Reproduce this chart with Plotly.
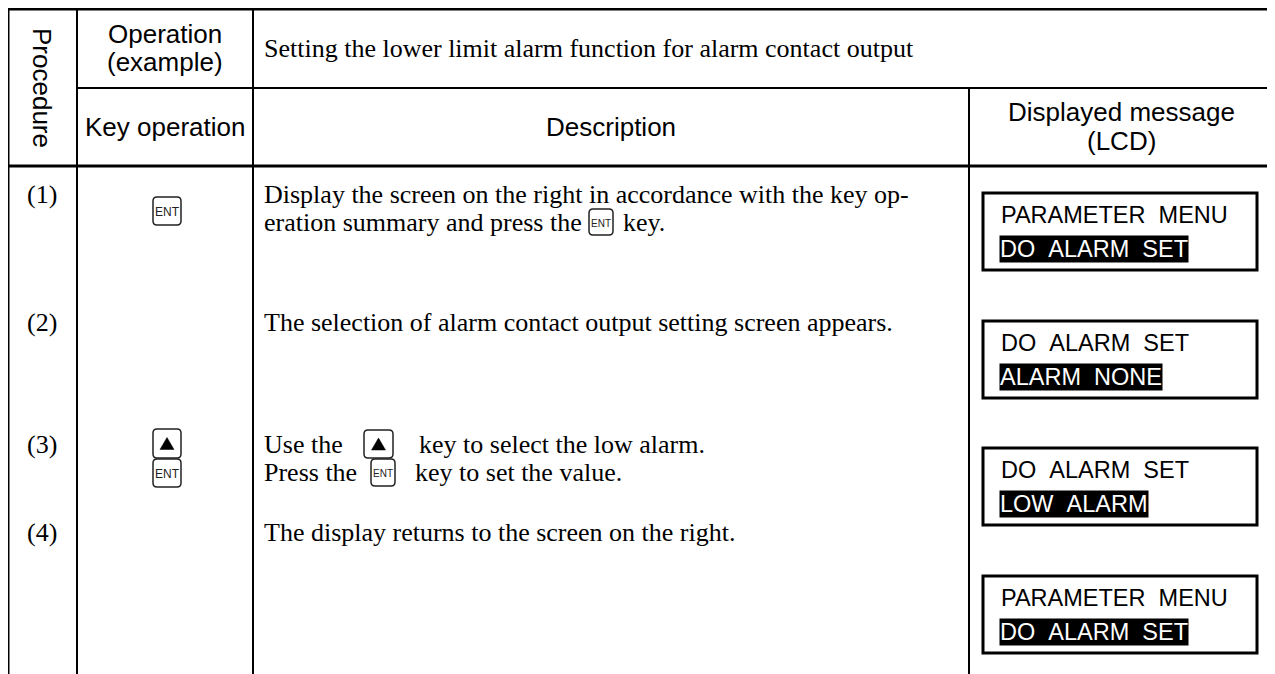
import plotly.graph_objects as go

SANS = "Liberation Sans, Arial, sans-serif"
SERIF = "Liberation Serif, Times New Roman, serif"

# ---- content ----
header_proc = "Procedure"
header_op = ["Operation", "(example)"]
header_key = "Key operation"
header_title = "Setting the lower limit alarm function for alarm contact output"
header_desc = "Description"
header_lcd = ["Displayed message", "(LCD)"]

step_labels = ["(1)", "(2)", "(3)", "(4)"]
desc_row1 = ["Display the screen on the right in accordance with the key op-",
             "eration summary and press the", "key."]
desc_row2 = ["The selection of alarm contact output setting screen appears."]
desc_row3 = ["Use the", "key to select the low alarm.", "Press the", "key to set the value."]
desc_row4 = ["The display returns to the screen on the right."]

lcd_line1 = ["PARAMETER MENU", "DO ALARM SET", "DO ALARM SET", "PARAMETER MENU"]
lcd_line2 = ["DO ALARM SET", "ALARM NONE", "LOW ALARM", "DO ALARM SET"]

# ---- layout geometry (page pixel coordinates; page body has an 8px margin) ----
W, H = 1275, 674
OFF = 8
X_L, X_P, X_K, X_D, X_R = 8, 77, 253, 969, 1272
Y_T, Y_H1, Y_H2 = 9, 88, 166
label_y = [194, 322, 444, 532]
lcd_top = [193, 321, 448, 576]
LCD_H = 77

fig = go.Figure()
fig.add_trace(go.Scatter(x=[OFF, W], y=[OFF, H], mode="markers",
                         marker=dict(opacity=0), hoverinfo="skip", showlegend=False))

shapes = []
def line(x0, y0, x1, y1, w):
    shapes.append(dict(type="line", x0=x0, y0=y0, x1=x1, y1=y1,
                       line=dict(color="black", width=w), layer="above"))

line(X_L - 1.5, Y_T, X_R + 1.5, Y_T, 3)
line(X_L, Y_T, X_L, H + OFF, 3)
line(X_R, Y_T, X_R, H + OFF, 3)
line(X_P, Y_T, X_P, H + OFF, 2)
line(X_K, Y_T, X_K, H + OFF, 2)
line(X_D, Y_H1, X_D, H + OFF, 2)
line(X_P, Y_H1, X_R, Y_H1, 2)
line(X_L, Y_H2, X_R, Y_H2, 3)

# LCD boxes
for t in lcd_top:
    shapes.append(dict(type="rect", x0=983, x1=1257, y0=t, y1=t + LCD_H,
                       line=dict(color="black", width=3), fillcolor="white"))

def rrect(x0, y0, x1, y1, r=4):
    return (f"M{x0+r},{y0} L{x1-r},{y0} Q{x1},{y0} {x1},{y0+r} L{x1},{y1-r} "
            f"Q{x1},{y1} {x1-r},{y1} L{x0+r},{y1} Q{x0},{y1} {x0},{y1-r} "
            f"L{x0},{y0+r} Q{x0},{y0} {x0+r},{y0} Z")

annotations = []
def text(x, y, s, size=26, family=SERIF, anchor="left", color="black", **kw):
    annotations.append(dict(x=x, y=y, xref="x", yref="y", text=s, showarrow=False,
                            xanchor=anchor, yanchor="middle",
                            font=dict(size=size, family=family, color=color), **kw))

def key(x0, y0, x1, y1, kind, size=12):
    shapes.append(dict(type="path", path=rrect(x0, y0, x1, y1),
                       line=dict(color="#222", width=1.5), fillcolor="white"))
    cx, cy = (x0 + x1) / 2, (y0 + y1) / 2
    if kind == "up":
        hw, hh = 7, 6
        shapes.append(dict(type="path",
                           path=f"M{cx-hw},{cy+hh} L{cx+hw},{cy+hh} L{cx},{cy-hh} Z",
                           line=dict(color="black", width=0.5), fillcolor="black"))
    else:
        text(cx, cy + 1, "ENT", size=size, family=SANS, anchor="center", color="#222")

# header text
text(42, 88, header_proc, size=26, family=SANS, anchor="center", textangle=90)
text(165, 34, header_op[0], size=26, family=SANS, anchor="center")
text(165, 62, header_op[1], size=26, family=SANS, anchor="center")
text(165, 127, header_key, size=26, family=SANS, anchor="center")
text(262, 48, header_title, size=26, family=SERIF)
text(611, 127, header_desc, size=26, family=SANS, anchor="center")
text(1121, 112, header_lcd[0], size=26, family=SANS, anchor="center")
text(1121, 141, header_lcd[1], size=26, family=SANS, anchor="center")

# step labels
for lab, y in zip(step_labels, label_y):
    text(42, y, lab, size=26, family=SERIF, anchor="center")

# descriptions
text(262, 194, desc_row1[0])
text(262, 222, desc_row1[1])
key(589, 209, 613, 235, "ent", size=10)
text(621, 222, desc_row1[2])
text(262, 322, desc_row2[0])
text(262, 444, desc_row3[0])
key(364, 430, 393, 458, "up")
text(417, 444, desc_row3[1])
text(262, 472, desc_row3[2])
key(371, 459, 395, 486, "ent", size=10)
text(413, 472, desc_row3[3])
text(262, 532, desc_row4[0])

# key operation column
key(153, 197, 181, 225, "ent", size=12)
key(153, 429, 181, 458, "up")
key(153, 459, 181, 487, "ent", size=12)

# LCD texts (wide word gaps as on the LCD)
for t, l1, l2 in zip(lcd_top, lcd_line1, lcd_line2):
    text(999, t + 22, l1.replace(" ", "\u00a0\u00a0"), size=23.5, family=SANS)
    text(999, t + 56, l2.replace(" ", "\u00a0\u00a0"), size=23.5, family=SANS,
         color="white", bgcolor="black", borderpad=0)

fig.update_layout(width=W, height=H, margin=dict(l=0, r=0, t=0, b=0),
                  paper_bgcolor="white", plot_bgcolor="white",
                  xaxis=dict(range=[OFF, W + OFF], visible=False, fixedrange=True),
                  yaxis=dict(range=[H + OFF, OFF], visible=False, fixedrange=True),
                  shapes=shapes, annotations=annotations, showlegend=False)
fig.write_html("out.html")
